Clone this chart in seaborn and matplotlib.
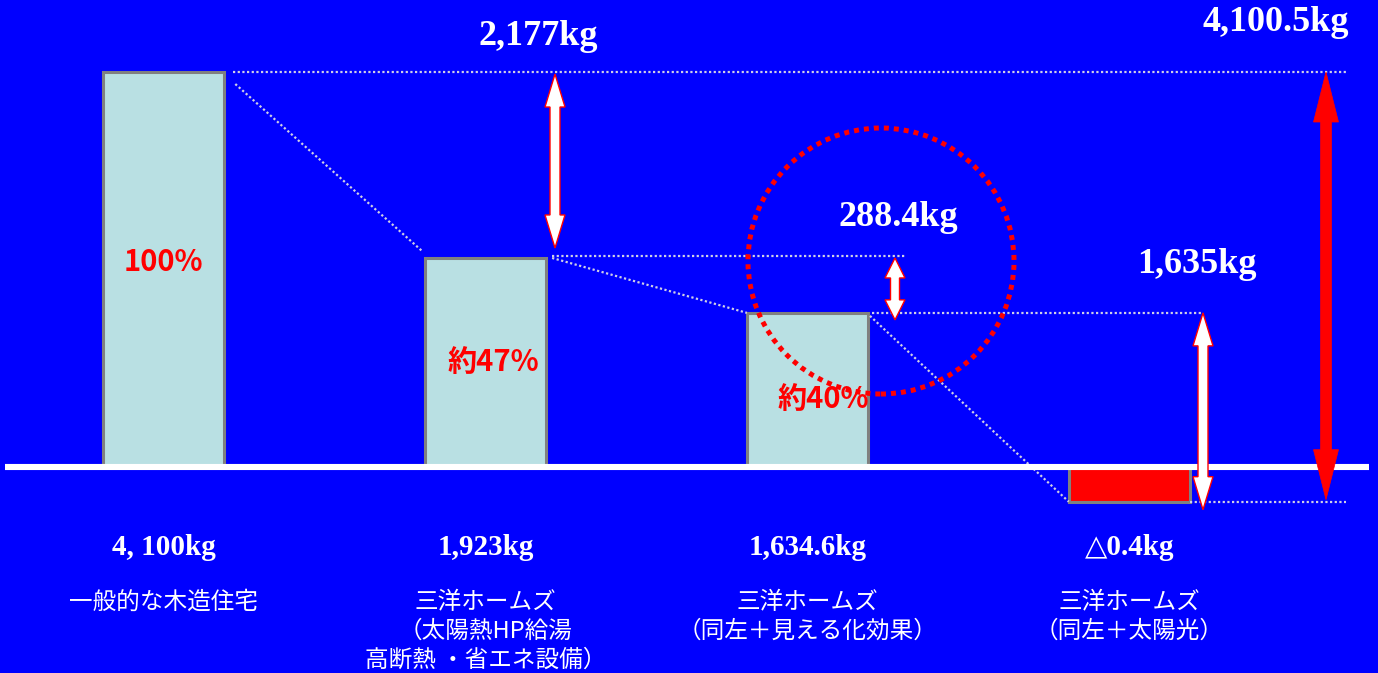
import matplotlib
matplotlib.use("Agg")
import matplotlib.pyplot as plt
import seaborn as sns
import pandas as pd
from matplotlib.patches import Polygon, Ellipse

# ---------------- data ----------------
categories = ["一般的な木造住宅",
              "三洋ホームズ\n（太陽熱HP給湯\n高断熱 ・省エネ設備）",
              "三洋ホームズ\n（同左＋見える化効果）",
              "三洋ホームズ\n（同左＋太陽光）"]
# bar heights as drawn in the picture (in kg, scaled to the first bar)
bar_heights = [4100, 2170, 1600, -360]
value_labels = ["4, 100kg", "1,923kg", "1,634.6kg", "△0.4kg"]
pct_labels = ["100%", "約47%", "約40%"]
diff_labels = ["2,177kg", "288.4kg", "1,635kg"]
total_label = "4,100.5kg"

# ---------------- figure ----------------
sns.set_theme(style="white")
plt.rcParams['font.family'] = ['Noto Sans CJK JP', 'DejaVu Sans']

W, H = 1378, 673
fig = plt.figure(figsize=(W / 100, H / 100), dpi=100)
fig.patch.set_facecolor("#0000FF")
ax = fig.add_axes([0, 0, 1, 1])

df = pd.DataFrame({"category": categories, "height": bar_heights})
bar_colors = ["#B9E0E3", "#B9E0E3", "#B9E0E3", "#FF0000"]
sns.barplot(data=df, x="category", y="height", hue="category",
            palette=bar_colors, legend=False, width=0.376, saturation=1,
            edgecolor="#808080", linewidth=2.2, ax=ax, zorder=2)

XL = (-0.509, 3.773)
YL = (-2138, 4847.5)
ax.set_xlim(*XL)
ax.set_ylim(*YL)
ax.axis("off")

sx = W / (XL[1] - XL[0])
sy = H / (YL[1] - YL[0])
def dx(p):
    return p / sx
def dy(p):
    return p / sy

h0, h1, h2, h3 = bar_heights
bars = ax.patches[:4]
lefts = [b.get_x() for b in bars]
rights = [b.get_x() + b.get_width() for b in bars]

# baseline
ax.plot([XL[0] + dx(5), XL[0] + dx(1369)], [0, 0], color="white",
        lw=4.4, solid_capstyle="butt", zorder=4)

# arrow x positions (from the picture)
a1x = XL[0] + dx(555)
a2x = XL[0] + dx(895)
a3x = XL[0] + dx(1203)
rx = XL[0] + dx(1326)

dot_kw = dict(color="#CFCFE6", lw=1.6, ls=(0, (1, 1.1)), zorder=3,
              solid_capstyle="butt", dash_capstyle="butt")
# dotted guide lines
ax.plot([rights[0] + dx(9), rx + dx(20)], [h0, h0], **dot_kw)
ax.plot([rights[0] + dx(11), lefts[1] - dx(2)], [h0 - dy(12), h1 + dy(6)], **dot_kw)
ax.plot([rights[1] + dx(6), a2x + dx(10)], [h1 + dy(2), h1 + dy(2)], **dot_kw)
ax.plot([rights[1] + dx(6), lefts[2]], [h1, h2], **dot_kw)
ax.plot([rights[2] + dx(4), a3x], [h2, h2], **dot_kw)
ax.plot([rights[2] + dx(2), lefts[3]], [h2 - dy(3), h3], **dot_kw)
ax.plot([rights[3], rx + dx(20)], [h3, h3], **dot_kw)


def double_arrow(x, ytop, ybot, shaft, headw, headl, fc, ec, lw, z=5):
    pts = [
        (x, ytop),
        (x + dx(headw / 2), ytop - dy(headl)),
        (x + dx(shaft / 2), ytop - dy(headl)),
        (x + dx(shaft / 2), ybot + dy(headl)),
        (x + dx(headw / 2), ybot + dy(headl)),
        (x, ybot),
        (x - dx(headw / 2), ybot + dy(headl)),
        (x - dx(shaft / 2), ybot + dy(headl)),
        (x - dx(shaft / 2), ytop - dy(headl)),
        (x - dx(headw / 2), ytop - dy(headl)),
    ]
    ax.add_patch(Polygon(pts, closed=True, facecolor=fc, edgecolor=ec,
                         lw=lw, zorder=z, joinstyle="miter"))


double_arrow(a1x, h0 - dy(2), h1 + dy(10), 10, 20, 33, "white", "red", 1.0)
double_arrow(a2x, h1, h2 - dy(7), 9, 20, 20, "white", "red", 1.0)
double_arrow(a3x, h2, h3 - dy(8), 10, 20, 33, "white", "red", 1.0)
double_arrow(rx, h0, h3 + dy(2), 11, 25, 50, "#FF0000", "#FF0000", 0.5)

# red dotted circle
ax.add_patch(Ellipse((XL[0] + dx(881), dy(467 - 261)), width=dx(266), height=dy(266),
                     fill=False, edgecolor="#FF0000", lw=3.6,
                     ls=(0, (1, 1)), zorder=6))

serif = ['Liberation Serif', 'DejaVu Sans', 'Noto Sans CJK JP']

# percentage labels inside bars
pct_frac = [0.52, 0.5, 0.44]
pct_shift = [0, 8, 16]
for i, (lab, fr, sh) in enumerate(zip(pct_labels, pct_frac, pct_shift)):
    ax.text(i + dx(sh), bar_heights[i] * fr, lab, color="#FF0000",
            fontsize=21, fontweight="bold", ha="center", va="center",
            family=['Noto Sans CJK JP', 'DejaVu Sans'], zorder=7)

# difference labels
ax.text(a1x - dx(17), h0 + dy(36), diff_labels[0], color="white",
        fontsize=26, fontweight="bold", family=serif, ha="center", va="center", zorder=7)
ax.text(a2x + dx(3), h1 + dy(40), diff_labels[1], color="white",
        fontsize=26, fontweight="bold", family=serif, ha="center", va="center", zorder=7)
ax.text(a3x - dx(6), h2 + dy(48), diff_labels[2], color="white",
        fontsize=26, fontweight="bold", family=serif, ha="center", va="center", zorder=7)
ax.text(rx - dx(50), h0 + dy(50), total_label, color="white",
        fontsize=26, fontweight="bold", family=serif, ha="center", va="center", zorder=7)

# value labels and category labels under the baseline
for i, (v, c) in enumerate(zip(value_labels, categories)):
    ax.text(i, -dy(80), v, color="white", fontsize=21, fontweight="bold",
            family=serif, ha="center", va="center", zorder=7)
    ax.text(i, -dy(124), c, color="white", fontsize=17, ha="center", va="top",
            multialignment="center", linespacing=1.32,
            family=['Noto Sans CJK JP', 'DejaVu Sans'], zorder=7)

fig.savefig("out.png", dpi=100, facecolor=fig.get_facecolor())
